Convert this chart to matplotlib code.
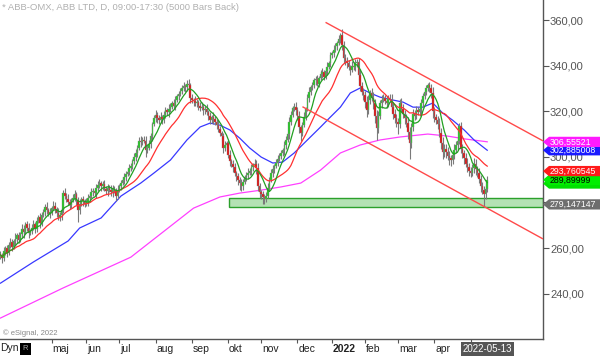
import matplotlib
matplotlib.use("Agg")
import matplotlib.pyplot as plt
import numpy as np
import pandas as pd
from matplotlib.patches import Polygon, Rectangle
import matplotlib.transforms as mtransforms

plt.rcParams['font.family'] = ['Liberation Sans', 'DejaVu Sans']

# ---------------- data ----------------
title = "* ABB-OMX, ABB LTD, D, 09:00-17:30 (5000 Bars Back)"
first_open = 256.5
close = [
    257.0, 255.5, 258.5, 260.0, 258.0, 261.5, 262.5, 260.5, 263.0, 264.0,
    265.5, 263.5, 266.0, 268.5, 267.0, 270.5, 269.0, 266.5, 267.5, 269.0,
    270.5, 268.5, 272.0, 273.5, 271.0, 274.5, 276.0, 278.0, 276.5, 275.0,
    276.0, 277.5, 278.5, 277.0, 275.5, 273.5, 274.5, 276.5, 284.0, 283.0,
    281.5, 280.0, 279.0, 281.0, 282.0, 283.5, 281.0, 276.5, 279.5, 281.5,
    280.5, 279.5, 280.0, 282.0, 283.0, 284.5, 285.0, 284.0, 286.5, 287.5,
    288.5, 287.0, 288.0, 286.0, 285.0, 286.5, 285.5, 284.5, 286.0, 285.0,
    283.0, 285.5, 287.0, 288.5, 290.0, 291.0, 292.5, 293.5, 295.0, 296.0,
    298.0, 300.0, 301.5, 304.0, 307.0, 306.5, 307.5, 307.0, 303.0, 304.0,
    305.5, 309.0, 314.5, 317.0, 318.5, 317.0, 316.0, 317.5, 316.5, 318.5,
    320.5, 319.5, 321.0, 322.0, 323.5, 322.5, 325.0, 326.5, 327.5, 329.0,
    330.0, 331.0, 330.5, 332.0, 331.5, 326.0, 325.0, 324.5, 323.5, 324.0,
    322.5, 321.5, 322.0, 320.5, 321.0, 319.5, 318.0, 316.0, 317.5, 316.5,
    315.5, 314.0, 312.0, 310.5, 309.0, 304.0, 305.0, 306.0, 301.0, 298.0,
    297.0, 295.5, 293.0, 291.5, 290.0, 288.5, 287.0, 289.0, 291.0, 292.0,
    293.0, 294.0, 295.5, 296.5, 297.0, 295.0, 287.0, 284.5, 283.5, 282.5,
    281.5, 283.0, 286.5, 290.0, 293.0, 294.5, 296.0, 297.5, 299.0, 300.5,
    301.5, 303.0, 305.0, 307.5, 310.0, 315.5, 318.5, 321.5, 322.0, 320.5,
    318.0, 313.0, 310.5, 314.0, 317.5, 321.0, 326.0, 328.5, 330.5, 331.5,
    333.5, 334.0, 332.0, 334.5, 336.5, 337.0, 335.0, 337.5, 339.5, 341.0,
    344.5, 345.5, 347.0, 348.5, 350.0, 351.5, 353.5, 349.0, 343.5, 342.0,
    341.0, 339.5, 338.0, 340.0, 339.5, 341.0, 341.5, 336.0, 331.0, 328.5,
    327.0, 324.0, 320.5, 325.0, 328.0, 326.0, 323.5, 318.0, 312.5, 318.0,
    323.5, 325.0, 326.0, 324.5, 323.5, 325.5, 325.0, 322.0, 319.0, 317.0,
    315.5, 314.5, 323.5, 321.0, 319.0, 317.0, 315.0, 311.0, 306.0, 313.0,
    319.0, 318.0, 320.5, 319.5, 321.0, 323.5, 326.5, 328.5, 330.0, 331.5,
    330.0, 328.0, 320.0, 317.5, 316.0, 314.5, 310.5, 306.0, 302.0, 303.5,
    302.0, 300.5, 299.5, 298.5, 301.0, 303.0, 305.0, 307.0, 313.5, 303.5,
    301.5, 299.5, 297.0, 295.5, 294.0, 293.0, 295.0, 297.0, 294.5, 293.0,
    290.5, 287.0, 285.5, 283.5, 286.0, 289.9,
]
wick_hi = [
    1.5, 1.0, 2.0, 1.0, 1.5, 1.0, 2.0, 1.5, 1.0, 2.5,
    1.0, 1.5, 1.0, 2.0, 1.5, 1.0, 1.5, 2.0, 1.0, 1.5,
    2.0, 1.0, 1.5, 1.0, 2.0, 1.5, 1.0, 1.5, 2.0, 1.0,
    1.5, 1.0, 2.0, 1.5, 1.0, 2.0, 1.5, 1.0, 1.5, 2.5,
    1.0, 2.0, 1.5, 1.0, 1.5, 2.0, 1.0, 1.5, 2.0, 1.0,
    1.5, 1.0, 2.0, 1.5, 1.0, 2.0, 1.5, 1.0, 1.5, 2.0,
    2.0, 1.0, 1.5, 2.0, 1.0, 1.5, 1.0, 2.0, 1.5, 1.0,
    1.5, 2.0, 1.0, 1.5, 1.0, 2.0, 1.5, 1.0, 2.0, 1.5,
    1.0, 1.5, 2.0, 1.0, 1.5, 2.0, 1.0, 1.5, 2.0, 1.0,
    2.0, 1.5, 1.0, 1.5, 2.0, 1.0, 1.5, 2.0, 1.0, 1.5,
    1.5, 1.0, 2.0, 1.5, 1.0, 2.0, 1.5, 1.0, 1.5, 1.0,
    1.5, 2.0, 1.0, 1.5, 2.0, 1.0, 1.5, 1.0, 2.0, 1.5,
    1.0, 1.5, 2.0, 1.0, 1.5, 2.0, 1.0, 1.5, 1.0, 2.0,
    1.5, 1.0, 2.0, 1.5, 1.0, 1.5, 2.0, 1.0, 1.5, 2.0,
    1.0, 1.5, 2.0, 1.0, 1.5, 1.0, 2.0, 1.5, 1.0, 1.5,
    2.0, 1.0, 1.5, 1.0, 2.0, 1.5, 2.5, 1.5, 1.0, 1.5,
    1.0, 1.5, 2.0, 1.0, 1.5, 2.0, 1.0, 1.5, 2.0, 1.0,
    1.5, 1.0, 2.0, 1.5, 1.0, 2.0, 1.5, 1.0, 1.5, 2.0,
    1.5, 2.0, 1.0, 1.5, 2.0, 1.0, 1.5, 2.0, 1.0, 1.5,
    1.0, 1.5, 2.0, 1.0, 1.5, 2.0, 1.0, 1.5, 2.0, 1.0,
    1.5, 1.0, 2.0, 1.5, 1.0, 2.0, 1.0, 2.5, 2.0, 1.5,
    2.0, 1.5, 1.0, 2.0, 1.5, 2.0, 1.5, 2.0, 2.5, 2.0,
    1.5, 2.0, 2.5, 2.0, 1.5, 2.0, 2.5, 2.0, 2.5, 2.0,
    1.5, 2.0, 1.5, 1.0, 2.0, 1.5, 2.0, 2.5, 1.5, 2.0,
    2.0, 1.5, 2.0, 2.5, 2.0, 1.5, 2.0, 2.5, 2.0, 2.0,
    2.0, 1.5, 2.0, 1.5, 1.0, 2.0, 1.5, 1.0, 1.5, 1.0,
    1.5, 2.0, 2.5, 2.0, 1.5, 2.0, 2.5, 2.0, 2.5, 2.0,
    2.0, 2.5, 2.0, 1.5, 2.0, 2.5, 2.0, 1.5, 1.5, 2.0,
    2.0, 1.5, 2.0, 2.5, 2.0, 1.5, 2.0, 2.5, 2.0, 1.5,
    2.0, 1.5, 2.0, 1.5, 2.0, 1.5,
]
wick_lo = [
    1.5, 2.0, 1.0, 1.5, 2.0, 1.0, 1.5, 2.0, 1.0, 1.5,
    2.0, 1.5, 1.0, 1.5, 2.5, 1.0, 1.5, 2.0, 1.0, 1.5,
    1.0, 2.0, 1.5, 1.0, 2.0, 1.5, 1.0, 2.0, 1.5, 1.0,
    2.0, 1.5, 1.0, 1.5, 2.0, 1.0, 1.5, 2.0, 1.0, 1.5,
    1.5, 1.0, 2.0, 1.5, 1.0, 1.5, 2.0, 5.0, 1.5, 1.0,
    2.0, 1.5, 1.0, 1.5, 2.0, 1.0, 1.5, 1.0, 2.0, 1.5,
    1.0, 2.0, 1.5, 1.0, 1.5, 2.0, 1.0, 1.5, 2.0, 1.0,
    2.5, 1.5, 1.0, 1.5, 1.0, 2.0, 1.5, 1.0, 1.5, 1.0,
    1.5, 1.0, 2.0, 1.5, 1.0, 2.0, 1.5, 1.0, 3.0, 1.5,
    1.0, 1.5, 2.0, 1.0, 1.5, 2.0, 1.5, 1.0, 2.0, 1.5,
    1.5, 1.0, 2.0, 1.5, 1.0, 1.5, 2.0, 1.0, 1.5, 1.0,
    1.5, 1.0, 2.0, 1.5, 1.0, 2.5, 1.5, 2.0, 1.0, 1.5,
    2.0, 1.5, 1.0, 2.0, 1.5, 1.0, 2.0, 1.5, 1.0, 2.0,
    1.5, 2.0, 1.0, 1.5, 2.0, 2.5, 1.5, 2.0, 1.5, 2.0,
    1.5, 2.0, 1.5, 2.0, 2.5, 3.0, 2.0, 1.5, 1.0, 1.5,
    1.5, 1.0, 2.0, 1.5, 1.0, 2.5, 2.0, 2.5, 2.0, 3.0,
    2.0, 1.5, 1.0, 1.5, 1.0, 2.0, 1.5, 1.0, 1.5, 1.0,
    1.5, 1.0, 2.0, 1.5, 1.0, 2.0, 1.5, 1.0, 1.5, 2.0,
    2.0, 2.5, 3.5, 1.5, 1.0, 1.5, 1.0, 2.0, 1.5, 1.0,
    1.5, 2.0, 1.0, 1.5, 1.0, 2.0, 1.5, 1.0, 1.5, 1.0,
    1.5, 1.0, 1.5, 1.0, 1.5, 1.0, 1.5, 2.0, 2.5, 1.5,
    2.0, 1.5, 2.0, 1.0, 1.5, 2.0, 1.5, 2.5, 2.0, 1.5,
    2.0, 2.5, 3.0, 1.5, 2.0, 1.5, 2.5, 3.0, 5.0, 2.0,
    1.5, 2.0, 1.0, 1.5, 2.0, 1.5, 1.0, 2.0, 2.5, 2.0,
    2.5, 4.5, 2.0, 1.5, 2.0, 2.5, 2.0, 3.0, 7.0, 2.0,
    1.5, 2.0, 1.5, 1.0, 1.5, 2.0, 1.5, 1.0, 1.5, 1.0,
    1.5, 2.0, 3.0, 2.0, 1.5, 2.5, 2.0, 2.5, 3.0, 2.0,
    2.5, 2.0, 3.0, 2.5, 1.5, 2.0, 1.5, 2.0, 1.5, 2.0,
    2.0, 2.5, 1.5, 2.0, 2.5, 2.0, 1.5, 2.0, 2.5, 2.0,
    2.0, 2.5, 2.0, 5.5, 2.0, 1.5,
]

# slower averages (bar index, price)
ma50_idx = [0, 20, 41, 48, 61, 73, 85, 93, 103, 113, 121, 127, 133, 139, 145, 151,
            158, 165, 171, 178, 186, 194, 200, 206, 212, 218, 224, 230, 238, 244,
            250, 256, 262, 268, 274, 281, 287, 295]
ma50_val = [244.6, 253.9, 263.1, 268.8, 273.2, 282.8, 288.5, 292.9, 298.6, 307.4,
            313.1, 314.8, 313.9, 311.8, 308.2, 303.9, 299.9, 297.3, 297.7, 301.7,
            307.4, 313.1, 317.5, 321.8, 328.0, 330.2, 328.0, 326.2, 324.9, 324.0,
            321.8, 321.8, 323.6, 319.2, 316.1, 311.8, 307.4, 302.9]
ma200_idx = [0, 38, 79, 117, 133, 145, 158, 170, 182, 194, 206, 218, 230, 242,
             259, 271, 282, 295]
ma200_val = [229.3, 242.5, 256.0, 277.5, 282.4, 284.1, 285.4, 286.8, 288.5, 294.2,
             301.7, 305.2, 307.4, 308.7, 310.0, 309.1, 307.8, 306.6]

channel_upper = [(197, 359.0), (328.8, 307.0)]
channel_lower = [(183, 322.0), (328.8, 264.0)]
support_zone = (138.5, 278.0, 282.0)   # start index, low, high

y_ticks = [240, 260, 280, 300, 320, 340, 360]
y_hidden = [280]          # label covered by the price tag in the original
month_ticks = [31, 52, 72, 94, 116, 138, 158, 180, 201, 221, 241, 263, 285]
month_labels = ["maj", "jun", "jul", "aug", "sep", "okt", "nov", "dec", "2022",
                "feb", "mar", "apr", ""]
last_date = "2022-05-13"

tags = [  # value, face, text, text colour
    (279.147147, "#6e6e6e", "279,147147", "white"),
    (288.3, "#00e000", "", "white"),
    (289.89999, "#00ee00", "289,89999", "black"),
    (293.760545, "#ff1a1a", "293,760545", "white"),
    (302.885008, "#1a1aff", "302,885008", "white"),
    (306.55521, "#ff1aff", "306,55521", "white"),
]

# ---------------- figure ----------------
W, H = 600, 356
fig = plt.figure(figsize=(W / 100, H / 100), dpi=100)
ax = fig.add_axes([0, 1 - 339 / H, 543 / W, 339 / H])
xmin, xmax = -0.3, 328.8
ax.set_xlim(xmin, xmax)
ax.set_ylim(220.1, 368.8)

n = len(close)
x = np.arange(n)
c = np.array(close)
o = np.concatenate([[first_open], c[:-1]])
hi = np.maximum(o, c) + np.array(wick_hi)
lo = np.minimum(o, c) - np.array(wick_lo)

# support zone
ax.add_patch(Rectangle((support_zone[0], support_zone[1]), xmax - support_zone[0],
                       support_zone[2] - support_zone[1], facecolor="#b4e2b4",
                       edgecolor="#2ca02c", lw=1.0, zorder=1))

# moving averages
cs = pd.Series(c)
ma_fast = cs.rolling(8, min_periods=1).mean()
ma_mid = cs.rolling(21, min_periods=1).mean()
ax.plot(ma200_idx, ma200_val, color="#ff40ff", lw=0.9, zorder=2)
ax.plot(ma50_idx, ma50_val, color="#3838ff", lw=0.9, zorder=2)

# candles
ax.vlines(x, lo, hi, color="#7a7a7a", lw=0.8, zorder=3)
up = c >= o
cols = np.where(up, "#22c822", "#e01010")
body = np.where(np.abs(c - o) < 0.3, 0.3, c - o)
ax.bar(x, body, bottom=o, width=0.9, color=cols, edgecolor="#8a8a8a",
       linewidth=0.25, zorder=4)

ax.plot(x, ma_mid, color="#ff3030", lw=0.9, zorder=5)
ax.plot(x, ma_fast, color="#22a022", lw=0.9, zorder=5)

# channel
for seg in (channel_upper, channel_lower):
    ax.plot([seg[0][0], seg[1][0]], [seg[0][1], seg[1][1]], color="#ff4a4a",
            lw=1.0, zorder=6, solid_capstyle="butt")

# axes styling
for s in ("top", "left"):
    ax.spines[s].set_visible(False)
ax.spines["right"].set_color("#555555")
ax.spines["bottom"].set_color("#555555")
ax.spines["right"].set_linewidth(1.0)
ax.spines["bottom"].set_linewidth(1.0)
ax.yaxis.tick_right()
ax.set_yticks(y_ticks)
ax.set_yticklabels(["" if v in y_hidden else f"{v:.2f}".replace(".", ",")
                    for v in y_ticks])
ax.tick_params(axis="y", direction="out", length=4, width=0.8, color="#555555",
               labelsize=8, labelcolor="#555555", pad=1)
ax.set_xticks(month_ticks)
ax.set_xticklabels([])
ax.tick_params(axis="x", direction="out", length=3, width=0.8, color="#555555")

xt = ax.get_xaxis_transform()
for t, lab in zip(month_ticks, month_labels):
    if lab:
        ax.text(t + 0.5, -10 / 339, lab, transform=xt, ha="left", va="center",
                fontsize=7.5, color="#222222",
                fontweight="bold" if lab == "2022" else "normal", clip_on=False)
ax.text(n - 1, -10 / 339, last_date, transform=xt, ha="center", va="center",
        fontsize=7, color="white", clip_on=False, zorder=10,
        bbox=dict(boxstyle="square,pad=0.2", facecolor="#555555", edgecolor="none"))

# price tags
trans = mtransforms.blended_transform_factory(ax.transAxes, ax.transData)
hh = 2.25
for val, face, txt, tcol in tags:
    x0, x1, x2 = 1.0, 1.0 + 6 / 543, 1.11
    poly = Polygon([[x0, val], [x1, val + hh], [x2, val + hh], [x2, val - hh],
                    [x1, val - hh]], closed=True, transform=trans, facecolor=face,
                   edgecolor="none", clip_on=False, zorder=10)
    ax.add_patch(poly)
    if txt:
        ax.text(1.0 + 7 / 543, val, txt, transform=trans, color=tcol, fontsize=6.3,
                ha="left", va="center", clip_on=False, zorder=11)

# texts
fig.text(2 / W, 1 - 8 / H, title, fontsize=6.8, color="#b0b0b0", ha="left",
         va="center")
fig.text(3 / W, 1 - 333 / H, "\u00a9 eSignal, 2022", fontsize=5.5, color="#888888",
         ha="left", va="center")
fig.text(0 / W, 1 - 348 / H, "Dyn", fontsize=7.5, color="#222222", ha="left",
         va="center")
fig.patches.append(Rectangle((20 / W, 1 - 355 / H), 11 / W, 12 / H,
                             transform=fig.transFigure, facecolor="black",
                             edgecolor="none"))
fig.text(25.5 / W, 1 - 349 / H, "R", fontsize=5.5, color="#aaaaaa", ha="center",
         va="center")

fig.savefig("out.png", dpi=100)
